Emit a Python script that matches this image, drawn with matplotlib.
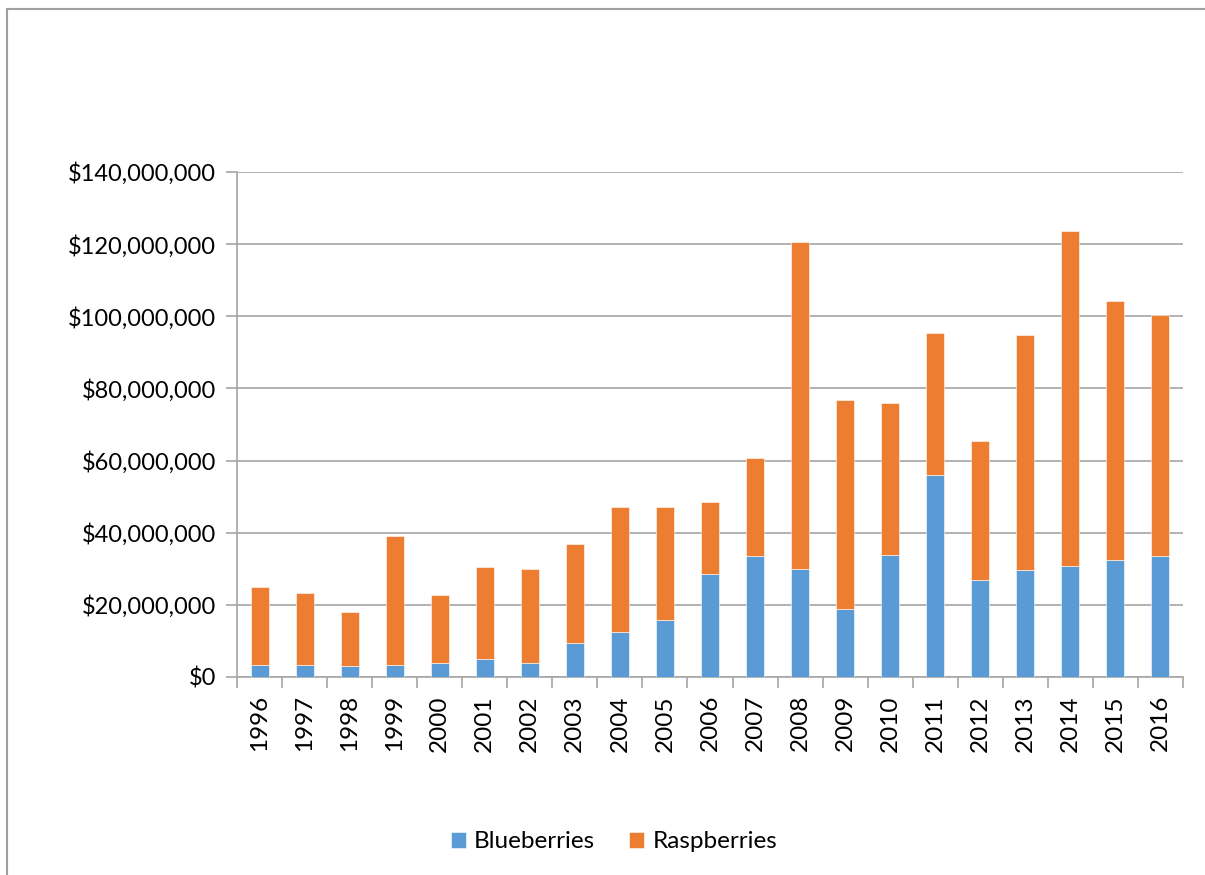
import matplotlib.pyplot as plt
import numpy as np
from matplotlib.lines import Line2D
from matplotlib.ticker import FuncFormatter, FixedLocator

plt.rcParams['font.family'] = ['Lato', 'DejaVu Sans']

# values (dollars, in millions)
years = [str(y) for y in range(1996, 2017)]
blueberries = [3.3, 3.3, 3.0, 3.3, 3.9, 5.0, 3.9, 9.4, 12.5, 15.8, 28.6,
               33.5, 29.9, 18.9, 33.8, 56.0, 26.9, 29.7, 30.8, 32.4, 33.5]
totals = [24.9, 23.3, 18.0, 39.1, 22.7, 30.5, 29.9, 36.9, 47.1, 47.1, 48.5,
          60.7, 120.6, 76.8, 76.0, 95.4, 65.4, 94.8, 123.6, 104.2, 100.4]
raspberries = [t - b for t, b in zip(totals, blueberries)]

blue = '#5B9BD5'
orange = '#ED7D31'
grey = '#A6A6A6'

fig = plt.figure(figsize=(12.05, 8.75), dpi=100)
# outer chart border: only top and left edges are visible in the reference
bx, by = 7 / 1205, 1 - 9 / 875
fig.lines.append(Line2D([bx, 1.05], [by, by], transform=fig.transFigure,
                        color='#A0A0A0', linewidth=1.5))
fig.lines.append(Line2D([bx, bx], [-0.05, by], transform=fig.transFigure,
                        color='#A0A0A0', linewidth=1.5))

ax = fig.add_axes([237 / 1205, 1 - 677 / 875, (1183 - 237) / 1205, (677 - 172) / 875])

x = np.arange(len(years))
b1 = ax.bar(x, np.array(blueberries) * 1e6, width=0.4, color=blue,
            edgecolor='white', linewidth=0.4, label='Blueberries', zorder=3)
b2 = ax.bar(x, np.array(raspberries) * 1e6, width=0.4, bottom=np.array(blueberries) * 1e6,
            color=orange, edgecolor='white', linewidth=0.4, label='Raspberries', zorder=3)

ax.set_xlim(-0.5, len(years) - 0.5)
ax.set_ylim(0, 140e6)
ax.set_yticks(np.arange(0, 140e6 + 1, 20e6))
ax.yaxis.set_major_formatter(FuncFormatter(lambda v, p: '${:,.0f}'.format(v)))
ax.grid(axis='y', color=grey, linewidth=1.2, zorder=0)

# x ticks at category boundaries, labels at centres
ax.xaxis.set_major_locator(FixedLocator(np.arange(-0.5, len(years), 1.0)))
ax.xaxis.set_major_formatter(FuncFormatter(lambda v, p: ''))
ax.set_xticks(x, minor=True)
ax.set_xticklabels(years, minor=True, rotation=90, fontsize=17.5)
ax.tick_params(axis='x', which='minor', length=0, pad=13)
ax.tick_params(axis='x', which='major', length=8, color=grey, width=1.2)
ax.tick_params(axis='y', length=8, color=grey, width=1.2, labelsize=17, pad=7)

for s in ['top', 'right']:
    ax.spines[s].set_visible(False)
for s in ['left', 'bottom']:
    ax.spines[s].set_color(grey)
    ax.spines[s].set_linewidth(1.2)

fig.legend(handles=[b1, b2], loc='center', bbox_to_anchor=(614 / 1205, 1 - 842 / 875),
           ncol=2, frameon=False, fontsize=17.5, handlelength=0.6, handleheight=0.6,
           handletextpad=0.35, columnspacing=1.4)

fig.savefig('out.png', dpi=100)
